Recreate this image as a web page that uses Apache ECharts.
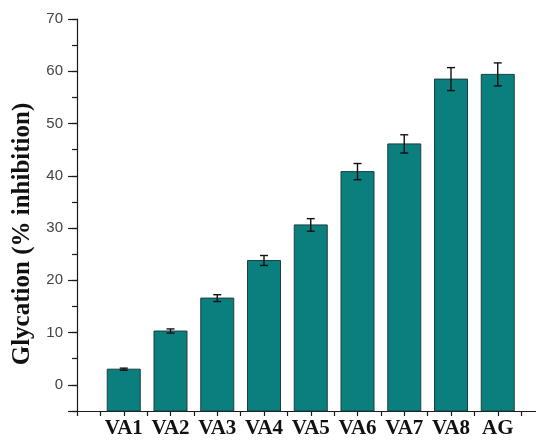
<!DOCTYPE html>
<html>
<head>
<meta charset="utf-8">
<script src="https://cdn.jsdelivr.net/npm/echarts@6/dist/echarts.min.js"></script>
<style>
  html, body { margin: 0; padding: 0; background: #fff; }
  #chart { width: 536px; height: 440px; }
</style>
</head>
<body>
<div id="chart"></div>
<script>
// Glycation inhibition per sample, with standard error
const categories = ['VA1', 'VA2', 'VA3', 'VA4', 'VA5', 'VA6', 'VA7', 'VA8', 'AG'];
const inhibition = [3.0, 10.3, 16.6, 23.8, 30.6, 40.8, 46.1, 58.5, 59.4];
const errors = [0.2, 0.4, 0.65, 0.95, 1.2, 1.55, 1.75, 2.2, 2.2];

const Y_MIN = -5;
const Y_MAX = 70;

// categories sit at integer positions 1..n on a numeric x axis
const barData = categories.map((c, i) => [i + 1, inhibition[i]]);
const errData = categories.map((c, i) => [i + 1, inhibition[i], errors[i]]);

const serif = '"Liberation Serif", "Times New Roman", serif';
const sans = '"Liberation Sans", Arial, sans-serif';

const chart = echarts.init(document.getElementById('chart'), null, { renderer: 'canvas' });

chart.setOption({
  animation: false,
  backgroundColor: '#ffffff',
  grid: { left: 77, top: 19, bottom: 29, right: -8.5, outerBoundsMode: 'none', containLabel: false },
  xAxis: {
    type: 'value',
    min: 0,
    max: 10,
    interval: 1,
    axisLine: { show: true, onZero: false, lineStyle: { color: '#1a1a1a', width: 1.2 } },
    axisTick: { show: true, length: 5, lineStyle: { color: '#1a1a1a', width: 1.2 } },
    minorTick: { show: true, splitNumber: 2, length: 5, lineStyle: { color: '#1a1a1a', width: 1.2 } },
    splitLine: { show: false },
    axisLabel: {
      margin: 7,
      fontFamily: serif,
      fontWeight: 'bold',
      fontSize: 21,
      color: '#111',
      formatter: v => (Number.isInteger(v) && v >= 1 && v <= categories.length) ? categories[v - 1] : ''
    }
  },
  yAxis: [
    {
      type: 'value',
      min: Y_MIN,
      max: Y_MAX,
      splitNumber: 7,
      minInterval: 10,
      maxInterval: 10,
      name: 'Glycation (% inhibition)',
      nameLocation: 'middle',
      nameGap: 37,
      nameRotate: 90,
      nameTextStyle: {
        fontFamily: serif, fontWeight: 'bold', fontSize: 25, color: '#111',
        padding: [0, 38, 0, 0]
      },
      axisLine: { show: true, onZero: false, lineStyle: { color: '#1a1a1a', width: 1.2 } },
      axisTick: { show: true, length: 9, lineStyle: { color: '#1a1a1a', width: 1.2 } },
      splitLine: { show: false },
      axisLabel: {
        margin: 14,
        fontFamily: sans,
        fontSize: 15,
        color: '#444',
        formatter: v => (v < 0 ? '' : String(v))
      }
    },
    {
      // minor ticks every 5 units
      type: 'value',
      min: Y_MIN,
      max: Y_MAX,
      interval: 5,
      position: 'left',
      axisLine: { show: false, onZero: false },
      axisTick: { show: true, length: 5, lineStyle: { color: '#1a1a1a', width: 1.2 } },
      axisLabel: { show: false },
      splitLine: { show: false }
    }
  ],
  series: [
    {
      name: 'bars',
      type: 'custom',
      xAxisIndex: 0,
      yAxisIndex: 0,
      data: barData,
      renderItem: function (params, api) {
        const x = api.value(0);
        const top = api.coord([x, api.value(1)]);
        const base = api.coord([x, Y_MIN]);
        const w = 33;
        return {
          type: 'rect',
          shape: { x: top[0] - w / 2, y: top[1], width: w, height: base[1] - top[1] },
          style: { fill: '#0b7e7e', stroke: '#1b3f3f', lineWidth: 1 }
        };
      },
      z: 2
    },
    {
      name: 'error',
      type: 'custom',
      xAxisIndex: 0,
      yAxisIndex: 0,
      data: errData,
      renderItem: function (params, api) {
        const x = api.value(0);
        const v = api.value(1);
        const e = api.value(2);
        const hi = api.coord([x, v + e]);
        const lo = api.coord([x, v - e]);
        const cap = 4;
        const style = { stroke: '#111', lineWidth: 1.4 };
        return {
          type: 'group',
          children: [
            { type: 'line', shape: { x1: hi[0], y1: hi[1], x2: lo[0], y2: lo[1] }, style: style },
            { type: 'line', shape: { x1: hi[0] - cap, y1: hi[1], x2: hi[0] + cap, y2: hi[1] }, style: style },
            { type: 'line', shape: { x1: lo[0] - cap, y1: lo[1], x2: lo[0] + cap, y2: lo[1] }, style: style }
          ]
        };
      },
      z: 3
    }
  ]
});
</script>
</body>
</html>
